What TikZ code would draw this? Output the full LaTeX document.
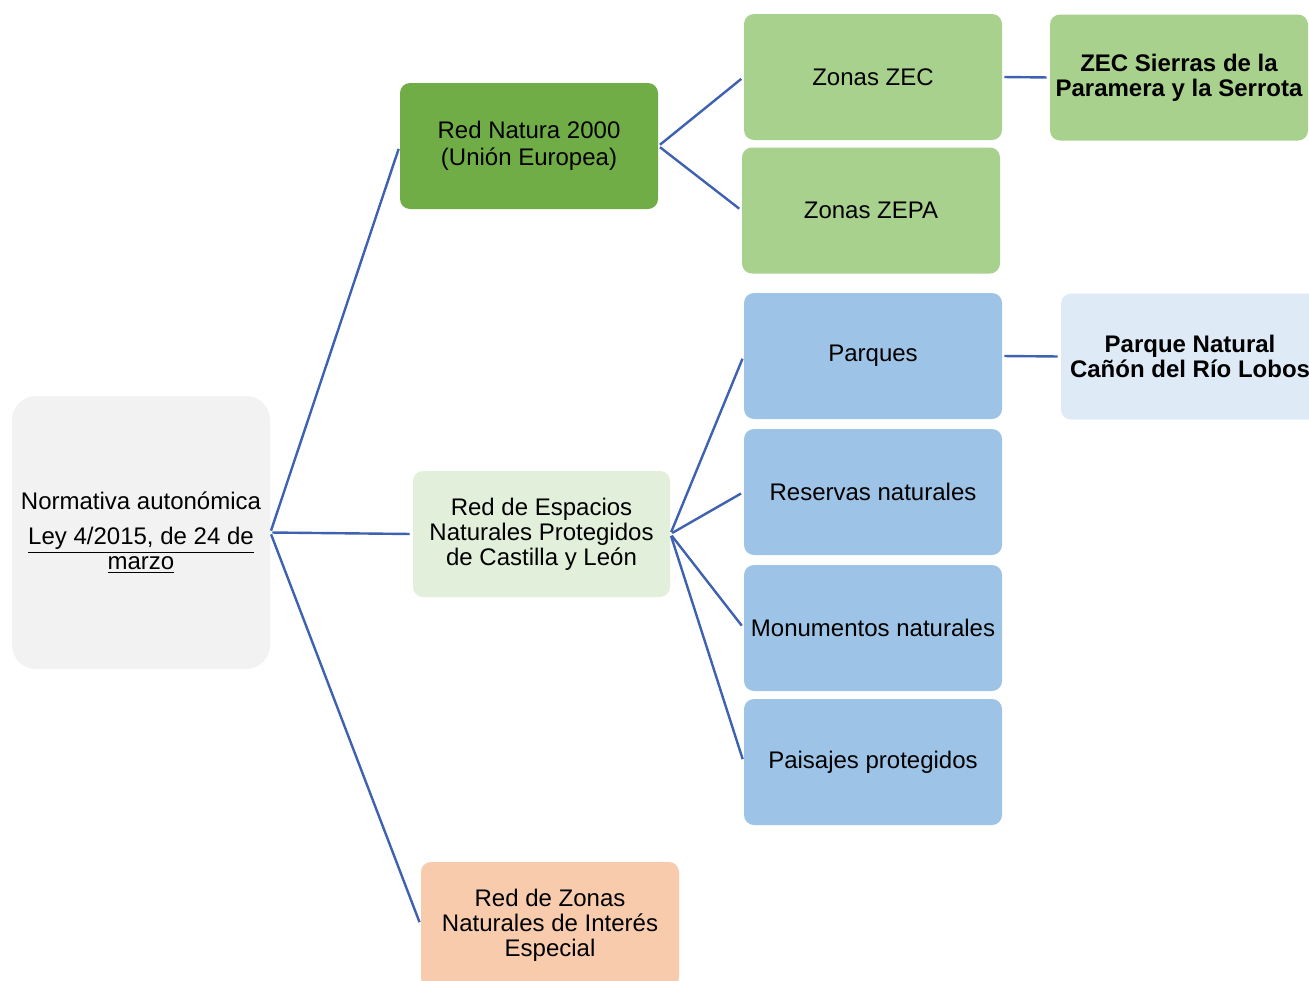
\documentclass[tikz,border=0pt]{standalone}
\usepackage{fontspec}
\setmainfont{Liberation Sans}
\definecolor{rootc}{HTML}{F2F2F2}
\definecolor{naturac}{HTML}{70AD47}
\definecolor{espc}{HTML}{E2EFDA}
\definecolor{zonc}{HTML}{F8CBAD}
\definecolor{zecc}{HTML}{A9D18E}
\definecolor{bluec}{HTML}{9DC3E6}
\definecolor{paleb}{HTML}{DEEBF7}
\definecolor{linec}{HTML}{3F62B0}
\begin{document}
\begin{tikzpicture}[x=0.5pt,y=-0.5pt,
  box/.style={rounded corners=5pt,minimum width=129pt,minimum height=63pt,
    inner sep=0pt,align=center,font=\fontsize{12}{12.5}\selectfont},
  conn/.style={draw=linec,line width=1.2pt,shorten <=1pt,shorten >=1.5pt}]
\useasboundingbox (0,0) rectangle (1309,980);
\clip (0,0) rectangle (1309,980);
\fill[white] (0,0) rectangle (1309,980);
\node[box,fill=rootc,rounded corners=12pt,minimum height=136.5pt] (root) at (141,532.5)
  {Normativa autonómica\\[5pt]\underline{Ley 4/2015, de 24 de}\\\underline{marzo}};
\node[box,fill=naturac] (natura) at (529,146) {\strut Red Natura 2000\\(Unión Europea)};
\node[box,fill=espc,minimum width=128.5pt] (esp) at (541.5,534) {Red de Espacios\\Naturales Protegidos\\de Castilla y León};
\node[box,fill=zonc] (zon) at (550,925) {Red de Zonas\\Naturales de Interés\\Especial};
\node[box,fill=zecc] (zec) at (873,77) {Zonas ZEC};
\node[box,fill=zecc] (zepa) at (871,210.5) {Zonas ZEPA};
\node[box,fill=zecc,font=\fontsize{12}{12.5}\selectfont\bfseries] (sierras) at (1179,77.5) {ZEC Sierras de la\\Paramera y la Serrota};
\node[box,fill=bluec] (parq) at (873,356) {Parques};
\node[box,fill=bluec] (res) at (873,492) {Reservas naturales};
\node[box,fill=bluec] (mon) at (873,628) {Monumentos naturales};
\node[box,fill=bluec] (pai) at (873,762) {Paisajes protegidos};
\node[box,fill=paleb,font=\fontsize{12}{12.5}\selectfont\bfseries] (pnat) at (1190,356.5) {Parque Natural\\Cañón del Río Lobos};
\draw[conn] (root.east) -- (natura.west);
\draw[conn] (root.east) -- (esp.west);
\draw[conn] (root.east) -- (zon.west);
\draw[conn] (natura.east) -- (zec.west);
\draw[conn] (natura.east) -- (zepa.west);
\draw[conn] (esp.east) -- (parq.west);
\draw[conn] (esp.east) -- (res.west);
\draw[conn] (esp.east) -- (mon.west);
\draw[conn] (esp.east) -- (pai.west);
\draw[conn] (zec.east) -- (sierras.west);
\draw[conn] (parq.east) -- (pnat.west);
\end{tikzpicture}
\end{document}
